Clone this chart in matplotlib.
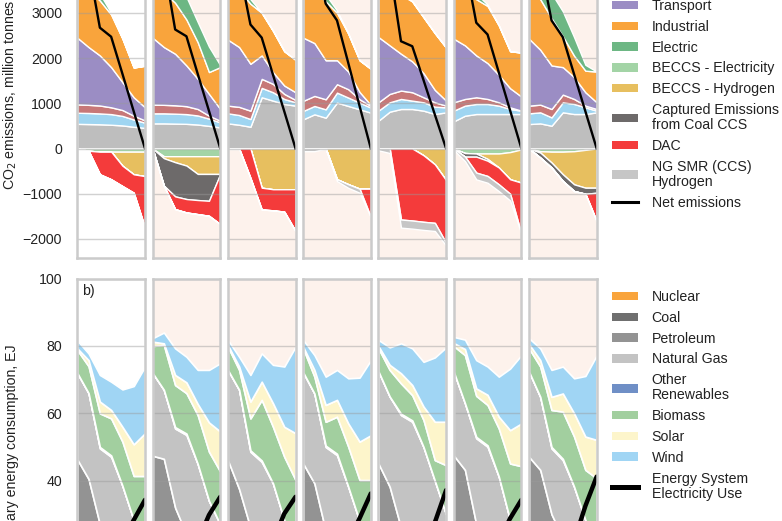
import matplotlib
matplotlib.use('Agg')
import matplotlib.pyplot as plt
from matplotlib.patches import Patch
from matplotlib.lines import Line2D
import numpy as np

plt.rcParams['font.family'] = ['Liberation Sans', 'DejaVu Sans']

YEARS = [2020, 2025, 2030, 2035, 2040, 2045, 2050]

# ---------------- a) CO2 emissions (million tonnes), one row per scenario panel
OTHER = [[545, 540, 535, 525, 510, 480, 455],
         [555, 555, 550, 545, 530, 500, 466],
         [555, 525, 481, 1132, 1058, 984, 947],
         [644, 755, 681, 1014, 940, 866, 792],
         [614, 814, 873, 873, 836, 762, 799],
         [600, 725, 762, 762, 762, 762, 762],
         [540, 555, 503, 800, 762, 762, 799]]
RESIDENTIAL = [[245, 245, 240, 235, 210, 160, 115],
               [222, 222, 220, 215, 200, 160, 111],
               [222, 215, 170, 207, 185, 111, 74],
               [185, 185, 185, 221, 185, 148, 111],
               [222, 207, 222, 185, 185, 163, 111],
               [236, 222, 222, 222, 185, 111, 74],
               [237, 244, 185, 221, 222, 148, 37]]
COMMERCIAL = [[185, 180, 175, 150, 130, 85, 50],
              [192, 188, 185, 175, 143, 65, 37],
              [170, 180, 185, 200, 185, 111, 52],
              [223, 222, 222, 186, 185, 74, 37],
              [185, 185, 185, 185, 111, 96, 37],
              [185, 148, 148, 111, 74, 37, 0],
              [170, 170, 185, 170, 111, 37, 37]]
TRANSPORT = [[1474, 1277, 1107, 888, 615, 407, 290],
             [1480, 1277, 1139, 900, 667, 481, 259],
             [1458, 1322, 1036, 518, 259, 185, 170],
             [1398, 1168, 862, 529, 390, 162, 20],
             [1443, 1073, 814, 681, 533, 274, 111],
             [1406, 1184, 925, 792, 607, 422, 311],
             [1480, 1214, 962, 607, 481, 296, 148]]
INDUSTRIAL = [[1451, 1258, 1213, 1162, 965, 658, 920],
              [1451, 1208, 1126, 1015, 810, 484, 927],
              [1495, 1258, 1328, 943, 913, 759, 717],
              [1450, 1170, 1300, 1050, 840, 700, 800],
              [1436, 1321, 1306, 1326, 1235, 1255, 1172],
              [1473, 1271, 1243, 1263, 1092, 818, 973],
              [1373, 1117, 1045, 682, 474, 477, 679]]
ELECTRIC = [[1300, 650, 150, 40, 0, 0, 0],
            [1400, 900, 600, 500, 445, 560, 40],
            [1300, 700, 100, 0, 0, 0, 0],
            [1300, 700, 150, 50, 0, 0, 0],
            [1300, 700, 100, 0, 0, 0, 0],
            [1300, 750, 120, 30, 0, 0, 0],
            [1500, 900, 550, 550, 410, 130, 0]]
# negative contributions (magnitudes)
BECCS_ELEC = [[0, 50, 70, 70, 70, 70, 70],
              [0, 170, 170, 170, 170, 170, 170],
              [0, 0, 0, 0, 0, 0, 0],
              [0, 0, 0, 0, 0, 0, 0],
              [0, 0, 0, 0, 0, 0, 0],
              [0, 100, 110, 110, 110, 80, 20],
              [0, 60, 70, 70, 60, 30, 0]]
BECCS_H2 = [[0, 0, 0, 0, 310, 500, 540],
            [0, 44, 133, 207, 392, 392, 392],
            [0, 0, 0, 866, 900, 900, 900],
            [0, 0, 0, 680, 790, 888, 888],
            [0, 0, 0, 0, 150, 350, 700],
            [0, 0, 0, 120, 310, 600, 735],
            [0, 30, 240, 500, 732, 836, 866]]
COAL_CCS = [[0, 0, 0, 0, 0, 0, 0],
            [0, 607, 755, 740, 577, 593, 0],
            [0, 0, 0, 0, 0, 0, 0],
            [0, 0, 0, 0, 0, 0, 0],
            [0, 0, 0, 0, 0, 0, 0],
            [0, 80, 70, 40, 0, 0, 0],
            [0, 110, 111, 148, 148, 134, 111]]
DAC = [[0, 0, 500, 610, 450, 407, 1144],
       [0, 0, 281, 296, 311, 332, 1110],
       [0, 0, 650, 481, 466, 495, 925],
       [0, 0, 0, 0, 0, 0, 630],
       [0, 0, 1569, 1591, 1470, 1293, 1387],
       [0, 0, 353, 337, 372, 320, 1132],
       [0, 0, 0, 0, 0, 0, 630]]
NG_SMR = [[0, 0, 0, 0, 0, 0, 0],
          [0, 0, 0, 0, 0, 0, 0],
          [0, 0, 0, 0, 0, 0, 0],
          [60, 60, 0, 40, 80, 90, 0],
          [40, 100, 180, 180, 180, 180, 60],
          [30, 100, 150, 150, 150, 150, 0],
          [0, 0, 0, 0, 0, 0, 0]]
NET = [[5200, 4050, 2670, 2470, 1650, 820, 0],
       [5200, 4100, 2630, 2480, 1650, 830, 0],
       [5200, 4000, 2740, 2450, 1630, 820, 0],
       [5300, 4300, 3200, 2830, 1890, 940, 0],
       [5200, 4000, 2370, 2260, 1510, 750, 0],
       [5200, 4100, 2780, 2520, 1680, 840, 0],
       [5200, 4100, 2830, 2460, 1640, 820, 0]]

# ---------------- b) Primary energy consumption (EJ)
NUCLEAR = [[8.5, 8.5, 8, 8, 7.5, 7, 7]] * 7
COAL = [[10, 7, 4, 2, 1, 0.5, 0.5]] * 7
PETROLEUM = [[27.8, 25, 15, 12, 9.5, 6.5, 2.5],
             [28.9, 31, 20, 14, 10.5, 7.5, 3.5],
             [27.6, 22, 14, 11, 8.5, 5.5, 1.5],
             [26.6, 23.7, 13, 10, 7.5, 4.5, 0.5],
             [26.6, 22.7, 14, 11, 8.5, 5.5, 1.5],
             [29, 27.7, 15, 12, 9.5, 6.5, 2.5],
             [28.6, 27.7, 18, 13, 9.5, 6.5, 2.5]]
NATURAL_GAS = [[25.7, 25.5, 22.6, 25.1, 20.5, 14.3, 12],
               [24.6, 20.5, 23.5, 29.6, 26, 19, 16],
               [26.8, 29.5, 22.6, 24.6, 22.2, 15.3, 13],
               [27.1, 26.7, 25, 27.6, 22.2, 16, 14],
               [27.4, 26.8, 33.5, 36.5, 33, 27, 21],
               [24.9, 19.8, 25.6, 28.1, 23.2, 14.3, 12],
               [25.3, 21.7, 19.6, 23.1, 20.2, 14.3, 12]]
OTHER_REN = [[0, 0, 0.4, 0.4, 0, 0, 0]] * 7
BIOMASS = [[6.8, 8, 10, 11, 13.1, 13.1, 19.4],
           [8, 13.3, 12.5, 12, 14.5, 14.6, 15.7],
           [6.9, 5.9, 9.5, 18, 16.8, 18.8, 18.2],
           [7.1, 5, 7.1, 11, 11.9, 12.2, 18.2],
           [6.8, 7.9, 9, 7.5, 8, 6.1, 14.6],
           [7.6, 14.3, 12.2, 12, 14.3, 16.8, 22.3],
           [6.9, 9, 11, 14, 14.9, 14.9, 18.7]]
SOLAR = [[0.5, 1.8, 3.5, 2.5, 4.4, 9.4, 12.7],
         [1.3, 0.5, 3, 3.2, 3.3, 8.7, 11.9],
         [0.5, 1, 5, 5.4, 7, 8.9, 13.9],
         [0.5, 2, 5, 5, 6.9, 11.4, 13.3],
         [0.7, 1.5, 3, 3, 4, 11.4, 12.9],
         [0.9, 1.8, 2.2, 3, 3.5, 9.9, 12.7],
         [1.3, 1.9, 3.9, 5.4, 6.9, 9.9, 11.4]]
WIND = [[2.3, 2, 7.9, 8.4, 11.1, 17.3, 19.8],
        [1, 3.2, 7.9, 7.6, 10.1, 15.6, 20.3],
        [1.5, 2.9, 7.9, 8.4, 11.4, 17.9, 25.7],
        [2, 4.4, 8.4, 8.9, 13.4, 19, 22.3],
        [1.8, 5.2, 8.9, 10.9, 13.3, 19.1, 22.1],
        [1.8, 2.8, 8.4, 8.4, 11.9, 18.3, 20.3],
        [1.7, 3.5, 8, 8, 10.4, 18, 25.1]]
ELEC_USE = [[13, 13, 14, 17, 22, 28.3, 34.3],
            [13, 13, 14, 17, 22, 29.8, 35.2],
            [13, 13, 14, 17, 22, 30.2, 35.2],
            [13, 13, 14, 17, 22, 28.8, 36.2],
            [13, 13, 14, 17, 22, 27.6, 37.2],
            [13, 13, 14, 17, 22, 28.8, 34.3],
            [13, 13, 14, 17, 22, 32.5, 41.2]]

TOP_TICKS = [-2000, -1000, 0, 1000, 2000, 3000]
BOT_TICKS = [40, 60, 80, 100]

TOP_LEGEND = ['Transport', 'Industrial', 'Electric', 'BECCS - Electricity',
              'BECCS - Hydrogen', 'Captured Emissions\nfrom Coal CCS', 'DAC',
              'NG SMR (CCS)\nHydrogen', 'Net emissions']
BOT_LEGEND = ['Nuclear', 'Coal', 'Petroleum', 'Natural Gas', 'Other\nRenewables',
              'Biomass', 'Solar', 'Wind', 'Energy System\nElectricity Use']

# ---------------- styles
C_OTHER, C_RES, C_COM = '#bebebe', '#9fd5f1', '#c77878'
C_TRA, C_IND, C_ELE = '#9b8dc4', '#f9a43c', '#6db784'
C_BE, C_BH, C_CCS, C_DAC, C_SMR = '#a3d4a6', '#e7bf5f', '#6d6a6a', '#f43b3b', '#c6c6c6'
C_NUC, C_COAL, C_PET, C_NG = '#f9a43c', '#6f6f6f', '#939393', '#c3c3c3'
C_OR, C_BIO, C_SOL, C_WIND = '#6f8fc6', '#a2cf9f', '#fdf5cb', '#a0d5f4'
PINK = '#fdf2ec'
SPINE = '#cbcbcb'
TXT = '#222222'
FS = 10.2

W, H = 782, 521
fig = plt.figure(figsize=(W / 100, H / 100), dpi=100)

def px_axes(x0, x1, y_top, y_bot):
    return [x0 / W, 1 - y_bot / H, (x1 - x0) / W, (y_bot - y_top) / H]

LEFT0, STEP, PW = 77.3, 75.28, 67.7

def style(ax, i, yticks):
    ax.set_facecolor('white' if i == 0 else PINK)
    ax.set_xlim(YEARS[0], YEARS[-1])
    ax.set_xticks([])
    ax.set_yticks(yticks)
    ax.grid(axis='y', color='#9a9a9a', alpha=0.45, lw=1.0)
    ax.set_axisbelow(False)
    ax.tick_params(axis='y', length=0, pad=11, labelsize=FS, labelcolor=TXT,
                   labelleft=(i == 0))
    for s in ax.spines.values():
        s.set_color(SPINE)
        s.set_linewidth(1.8)
        s.set_zorder(6)

# top panels
TOP_LIM = (-2420, 4800)
PPU_TOP = 0.04525  # px per unit
for i in range(7):
    x0 = LEFT0 + i * STEP
    y_top = 148.5 - TOP_LIM[1] * PPU_TOP
    y_bot = 148.5 - TOP_LIM[0] * PPU_TOP
    ax = fig.add_axes(px_axes(x0, x0 + PW, y_top, y_bot))
    pos = np.array([OTHER[i], RESIDENTIAL[i], COMMERCIAL[i], TRANSPORT[i],
                    INDUSTRIAL[i], ELECTRIC[i]], dtype=float)
    ax.stackplot(YEARS, pos, colors=[C_OTHER, C_RES, C_COM, C_TRA, C_IND, C_ELE],
                 edgecolor='white', linewidth=1.0)
    neg = -np.array([BECCS_ELEC[i], BECCS_H2[i], COAL_CCS[i], DAC[i], NG_SMR[i]],
                    dtype=float)
    ax.stackplot(YEARS, neg, colors=[C_BE, C_BH, C_CCS, C_DAC, C_SMR],
                 edgecolor='white', linewidth=1.0)
    ax.plot(YEARS, NET[i], color='black', lw=1.7, zorder=5)
    ax.set_ylim(*TOP_LIM)
    style(ax, i, TOP_TICKS)
    if i == 0:
        ax.set_ylabel('CO$_2$ emissions, million tonnes', fontsize=FS, color=TXT)
        ax.yaxis.set_label_coords(-0.86, 0.5)

# bottom panels: ylim (0, 100)
PPU_BOT = 3.3667
for i in range(7):
    x0 = LEFT0 + i * STEP
    y_top = 346 - (100 - 80) * PPU_BOT
    y_bot = 346 + 80 * PPU_BOT
    ax = fig.add_axes(px_axes(x0, x0 + PW, y_top, y_bot))
    layers = np.array([NUCLEAR[i], COAL[i], PETROLEUM[i], NATURAL_GAS[i],
                       OTHER_REN[i], BIOMASS[i], SOLAR[i], WIND[i]], dtype=float)
    ax.stackplot(YEARS, layers,
                 colors=[C_NUC, C_COAL, C_PET, C_NG, C_OR, C_BIO, C_SOL, C_WIND],
                 edgecolor='white', linewidth=1.2)
    ax.plot(YEARS, ELEC_USE[i], color='black', lw=3.2, zorder=5,
            solid_capstyle='round')
    ax.set_ylim(0, 100)
    style(ax, i, BOT_TICKS)
    if i == 0:
        ax.set_ylabel('Primary energy consumption, EJ', fontsize=FS, color=TXT)
        ax.yaxis.set_label_coords(-0.86, 0.5)
        ax.text(0.07, 0.963, 'b)', transform=ax.transAxes, fontsize=FS,
                color=TXT, va='center', ha='left')

# legends
def make_legend(handles, labels, y_anchor_px):
    leg = fig.legend(handles, labels, loc='upper left',
                     bbox_to_anchor=(611.7 / W, 1 - y_anchor_px / H),
                     frameon=False, fontsize=FS, handlelength=1.88,
                     handleheight=0.55, handletextpad=0.94, labelspacing=0.48,
                     borderpad=0, borderaxespad=0, labelcolor=TXT)
    for t in leg.get_texts():
        t.set_linespacing(1.1)
    return leg

top_handles = [Patch(facecolor=c, edgecolor='none') for c in
               [C_TRA, C_IND, C_ELE, C_BE, C_BH, C_CCS, C_DAC, C_SMR]]
top_handles.append(Line2D([], [], color='black', lw=2.2))
make_legend(top_handles, TOP_LEGEND, -1)

bot_handles = [Patch(facecolor=c, edgecolor='none') for c in
               [C_NUC, C_COAL, C_PET, C_NG, C_OR, C_BIO, C_SOL, C_WIND]]
bot_handles.append(Line2D([], [], color='black', lw=3.6))
make_legend(bot_handles, BOT_LEGEND, 290)

fig.savefig('out.png', dpi=100)
